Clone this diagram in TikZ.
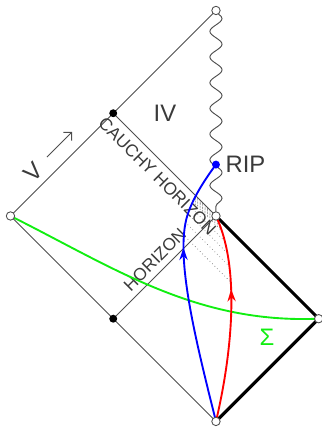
\documentclass[tikz,border=0pt]{standalone}
\usepackage{fontspec}
\setmainfont{Liberation Sans}
\usetikzlibrary{arrows.meta,calc,positioning,decorations.pathmorphing,decorations.markings}
\definecolor{Ink}{HTML}{3A3A3A}
\definecolor{Edge}{HTML}{4E4E4E}
\definecolor{Infall}{HTML}{0000FF}
\definecolor{Outside}{HTML}{FF0000}
\definecolor{Slice}{HTML}{11EE11}

\begin{document}
\begin{tikzpicture}[x=2.5cm,y=2.5cm,
          frame/.style={draw=Edge,line width=0.65pt},
          border/.style={draw=black,line width=2.2pt},
          sing/.style={draw=Edge,line width=0.65pt,decorate,
            decoration={snake,amplitude=4.2pt,segment length=0.625cm}},
          ray/.style={draw=Edge,line width=0.4pt,dotted},
          worldline/.style={line width=1.3pt,postaction={decorate},
            decoration={markings,mark=at position #1 with {\arrow{Stealth[length=3mm,width=2mm]}}}},
          opendot/.style={circle,draw=Edge,fill=white,line width=0.6pt,inner sep=0pt,minimum size=5.8pt},
          fulldot/.style={circle,fill=black,inner sep=0pt,minimum size=5.5pt},
          biglbl/.style={text=Ink,font=\fontsize{16.5}{19}\selectfont,inner sep=1pt},
          smalllbl/.style={text=Ink,font=\fontsize{12}{14}\selectfont,inner sep=1pt}]
        \useasboundingbox (-2.102,-2.054) rectangle (1.032,2.102);
        \coordinate (top) at (0,2);
        \coordinate (left) at (-2,0);
        \coordinate (mid) at (0,0);
        \coordinate (right) at (1,-1);
        \coordinate (bot) at (0,-2);
        \coordinate (chend) at (-1,1);
        \coordinate (hend) at (-1,-1);
        \coordinate (rip) at (0,0.5);
        % signals piling up at the Cauchy horizon
        \begin{scope}
          \clip (bot) .. controls (-0.2,-1.2) and (-0.4,-0.4) .. (-0.28,0)
            .. controls (-0.22,0.2) and (-0.06,0.42) .. (rip) -- (mid)
            .. controls (0.26,-0.55) and (0.13,-1.45) .. (bot) -- cycle;
          \foreach \c in {0.008,0.02,0.032,0.045,0.06,0.075,0.09,0.16,0.25,0.36,0.5}
            \draw[ray] (-0.8,0.8-\c) -- (0.8,-0.8-\c);
        \end{scope}
        \draw[frame] (left) -- (top);
        \draw[frame] (left) -- (hend) -- (bot);
        \draw[frame] (chend) -- node[sloped,below=3.5pt,smalllbl,pos=0.52] (chlbl) {CAUCHY HORIZON} (mid);
        \draw[frame] (hend) -- node[sloped,above=3pt,smalllbl,pos=0.49] (hlbl) {HORIZON} (mid);
        \draw[sing] (top) -- (mid);
        \draw[border] (bot) -- (right) -- (mid);
        \draw[Slice,line width=1.3pt] (left) .. controls (-1,-0.5) and (-0.2,-1.05) .. (right);
        \draw[Infall,worldline=0.66] (bot) .. controls (-0.2,-1.2) and (-0.4,-0.4) .. (-0.28,0)
          .. controls (-0.22,0.2) and (-0.06,0.42) .. (rip);
        \draw[Outside,worldline=0.64] (bot) .. controls (0.13,-1.45) and (0.26,-0.55) .. (mid);
        \node[opendot] (topc) at (top) {};
        \node[opendot] (leftc) at (left) {};
        \node[opendot] (midc) at (mid) {};
        \node[opendot] (rightc) at (right) {};
        \node[opendot] (botc) at (bot) {};
        \node[fulldot] (chdot) at (chend) {};
        \node[fulldot] (hdot) at (hend) {};
        \node[fulldot,fill=Infall] (ripdot) at (rip) {};
        \node[biglbl,right=2.5pt of ripdot] (riplbl) {RIP};
        \node[biglbl] (regIV) at (-0.496,1.002) {IV};
        \node[biglbl,rotate=45] (regV) at (-1.776,0.423) {V};
        \node[biglbl,text=Slice] (sigma) at (0.496,-1.178) {Σ};
        \coordinate (vtail) at (-1.645,0.574);
        \coordinate (vhead) at (-1.401,0.818);
        \draw[frame,-{Straight Barb[length=1.4mm,width=2.8mm]}] (vtail) -- (vhead);
      \end{tikzpicture}
\end{document}
